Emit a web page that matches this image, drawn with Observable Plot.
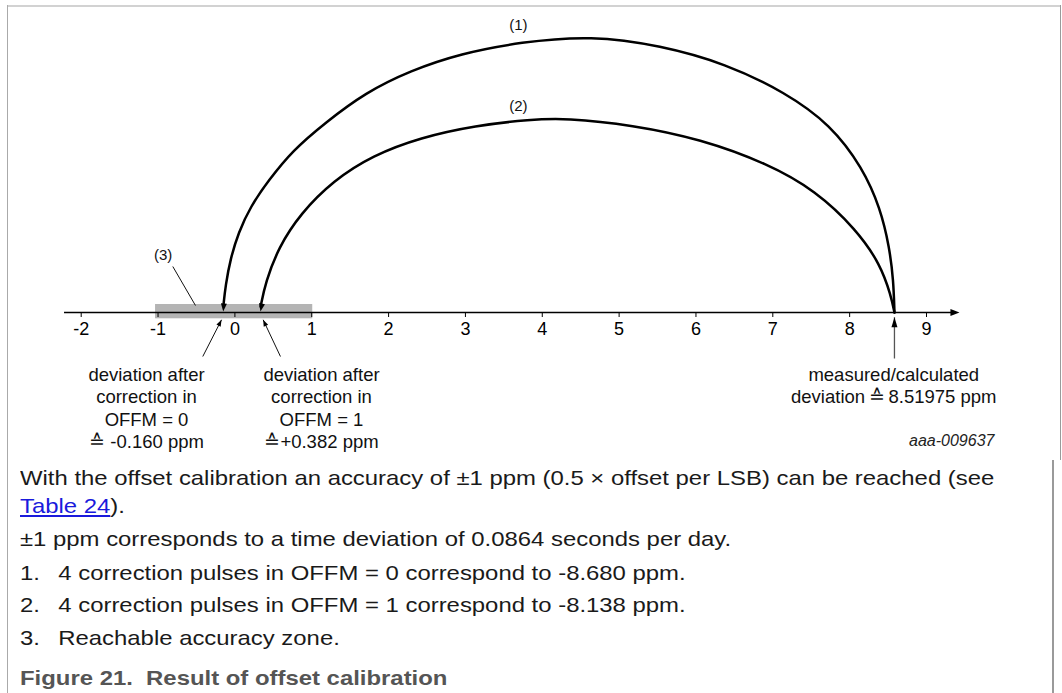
<!DOCTYPE html>
<html><head><meta charset="utf-8">
<script src="https://cdn.jsdelivr.net/npm/d3@7"></script>
<script src="https://cdn.jsdelivr.net/npm/@observablehq/plot@0.6"></script>
<style>
html,body{margin:0;padding:0;background:#fff;overflow:hidden;width:1062px;height:693px}
#page{position:relative;width:1062px;height:693px;font-family:"Liberation Sans",Arial,Helvetica,sans-serif}
#chart{position:absolute;left:0;top:0}
.bd{position:absolute}
.txt{position:absolute;left:20px;font-size:20.6px;line-height:28.3px;color:#1a1a1a;white-space:nowrap;transform:scaleX(1.16);transform-origin:0 0}
.num{display:inline-block;width:33px}
a{color:#1a1adc;text-decoration:underline}
.cap{font-weight:bold;color:#555}
</style></head>
<body><div id="page">
<div class="bd" style="left:7px;top:5px;width:1054px;height:1.5px;background:#d2d2d2"></div>
<div class="bd" style="left:6.5px;top:5px;width:1.5px;height:700px;background:#aaa"></div>
<div class="bd" style="left:1059.5px;top:5px;width:1.5px;height:455px;background:#9a9a9a"></div>
<div class="bd" style="left:1052px;top:460px;width:1.5px;height:240px;background:#9a9a9a"></div>
<div id="chart"></div>
<div class="txt" style="top:463.7px">With the offset calibration an accuracy of ±1 ppm (0.5 × offset per LSB) can be reached (see<br><a>Table 24</a>).</div>
<div class="txt" style="top:525.4px">±1 ppm corresponds to a time deviation of 0.0864 seconds per day.</div>
<div class="txt" style="top:558.7px"><span class="num">1.</span>4 correction pulses in OFFM = 0 correspond to -8.680 ppm.</div>
<div class="txt" style="top:591.4px"><span class="num">2.</span>4 correction pulses in OFFM = 1 correspond to -8.138 ppm.</div>
<div class="txt" style="top:623.7px"><span class="num">3.</span>Reachable accuracy zone.</div>
<div class="txt cap" style="top:663.7px">Figure 21.&nbsp; Result of offset calibration</div>
</div>
<script>
// ---- data (x in ppm, h = height of the drawing above the axis, arbitrary units) ----
const xTicks = [-2, -1, 0, 1, 2, 3, 4, 5, 6, 7, 8, 9];
const zone = [-1, 1];                 // reachable accuracy zone (3)
const axisExtent = [-2.217, 9.38];
const axisTip = [9.429, 0];
const measured = 8.583;               // drawn position of measured deviation
const tipOffm0 = [-0.152, 1];         // arrow (1) lands at deviation after correction OFFM=0
const tipOffm1 = [0.333, 1];          // arrow (2) lands at deviation after correction OFFM=1
const arc1 = [[-0.149, 7], [-0.122, 27], [-0.057, 54], [0.047, 80], [0.203, 106], [0.437, 132], [0.750, 162], [1.179, 190], [1.699, 220], [2.285, 242], [2.936, 259], [3.716, 270.5], [4.640, 277], [5.538, 267], [6.384, 249], [7.165, 220], [7.750, 188], [8.167, 145], [8.401, 104], [8.518, 65], [8.570, 32], [8.583, 0]];
const arc2 = [[0.335, 6], [0.398, 30], [0.567, 65], [0.854, 99], [1.283, 132], [1.791, 157], [2.415, 175], [3.131, 187], [3.846, 193], [4.302, 194.5], [5.174, 187.5], [6.059, 173.5], [6.930, 149], [7.555, 122], [8.088, 83], [8.401, 48], [8.537, 17], [8.583, 0]];
const pointers = [[-0.418, -44, -0.174, -7.3], [0.593, -44, 0.368, -7.3], [-0.808, 46, -0.513, 7]];
const measuredPointer = [[measured, -46, measured, -4.7]];
const heads = [tipOffm0, tipOffm1, [-0.174, -7.3], [0.368, -7.3], [measured, -4.7], axisTip];
const headStyle = [[8, 3, 5], [8, 3, 11], [6.5, 2.4, -153], [6.5, 2.4, 155], [10, 3, 180], [9, 3.6, -90]];
const arcLabels = [["(1)", 3.690, 287], ["(2)", 3.690, 206], ["(3)", -0.933, 57]];
const notes = [
  ["deviation after\ncorrection in\nOFFM = 0\n\u2259 -0.160 ppm", -1.150, -95],
  ["deviation after\ncorrection in\nOFFM = 1\n\u2259+0.382 ppm", 1.127, -95],
  ["measured/calculated\ndeviation\u2009\u2259\u20098.51975 ppm", 8.574, -72.5]
];
const figId = [["aaa-009637", 9.884, -128.7]];

function headSymbol(len, hw, deg) {
  const t = deg * Math.PI / 180, c = Math.cos(t), s = Math.sin(t);
  const p = [[0, 0], [-hw, -len], [hw, -len]].map(([a, b]) => [a * c - b * s, a * s + b * c]);
  return {draw(ctx) { ctx.moveTo(p[0][0], p[0][1]); ctx.lineTo(p[1][0], p[1][1]); ctx.lineTo(p[2][0], p[2][1]); ctx.closePath(); }};
}

const fx = d => d[0], fy = d => d[1];
const marks = [
  Plot.rect([zone], {x1: d => d[0], x2: d => d[1], y1: -6.3, y2: 8, fill: "#b4b4b4", insetLeft: -2.5, insetRight: -1}),
  Plot.ruleY([0], {x1: axisExtent[0], x2: axisExtent[1], stroke: "#000", strokeWidth: 1.5}),
  Plot.line(arc1, {x: fx, y: fy, curve: "basis", stroke: "#000", strokeWidth: 2.5}),
  Plot.line(arc2, {x: fx, y: fy, curve: "basis", stroke: "#000", strokeWidth: 2.5}),
  Plot.link(pointers, {x1: d => d[0], y1: d => d[1], x2: d => d[2], y2: d => d[3], stroke: "#111", strokeWidth: 1}),
  Plot.link(measuredPointer, {x1: d => d[0], y1: d => d[1], x2: d => d[2], y2: d => d[3], stroke: "#555", strokeWidth: 1.3}),
  ...heads.map((h, i) => Plot.dot([h], {x: fx, y: fy, symbol: headSymbol(...headStyle[i]), fill: "#000", stroke: "none"})),
  Plot.text(arcLabels, {text: d => d[0], x: d => d[1], y: d => d[2], fontSize: 15, fill: "#111"}),
  Plot.text(notes, {text: d => d[0], x: d => d[1], y: d => d[2], fontSize: 18.5, lineHeight: 1.21, lineAnchor: "middle", fill: "#111"}),
  Plot.text(figId, {text: d => d[0], x: d => d[1], y: d => d[2], fontSize: 16, fontStyle: "italic", textAnchor: "end", fill: "#222"})
];
const xOpts = {domain: [-2, 9], label: null};
if (typeof Plot.axisX === "function") {
  marks.push(Plot.axisX(xTicks, {tickFormat: d => String(d), tickSize: 5, tickPadding: 5, label: null, fontSize: 18}));
} else {
  Object.assign(xOpts, {ticks: xTicks, tickFormat: d => String(d), tickSize: 5, tickPadding: 5});
}
const chart = Plot.plot({
  width: 1062, height: 460,
  marginLeft: 80.7, marginRight: 136, marginTop: 12, marginBottom: 148,
  style: {background: "none", overflow: "visible", fontFamily: "Liberation Sans, Arial, sans-serif", fontSize: "18px", color: "#000"},
  x: xOpts,
  y: {domain: [0, 300], axis: null},
  marks
});
document.getElementById("chart").appendChild(chart);
</script>
</body></html>
